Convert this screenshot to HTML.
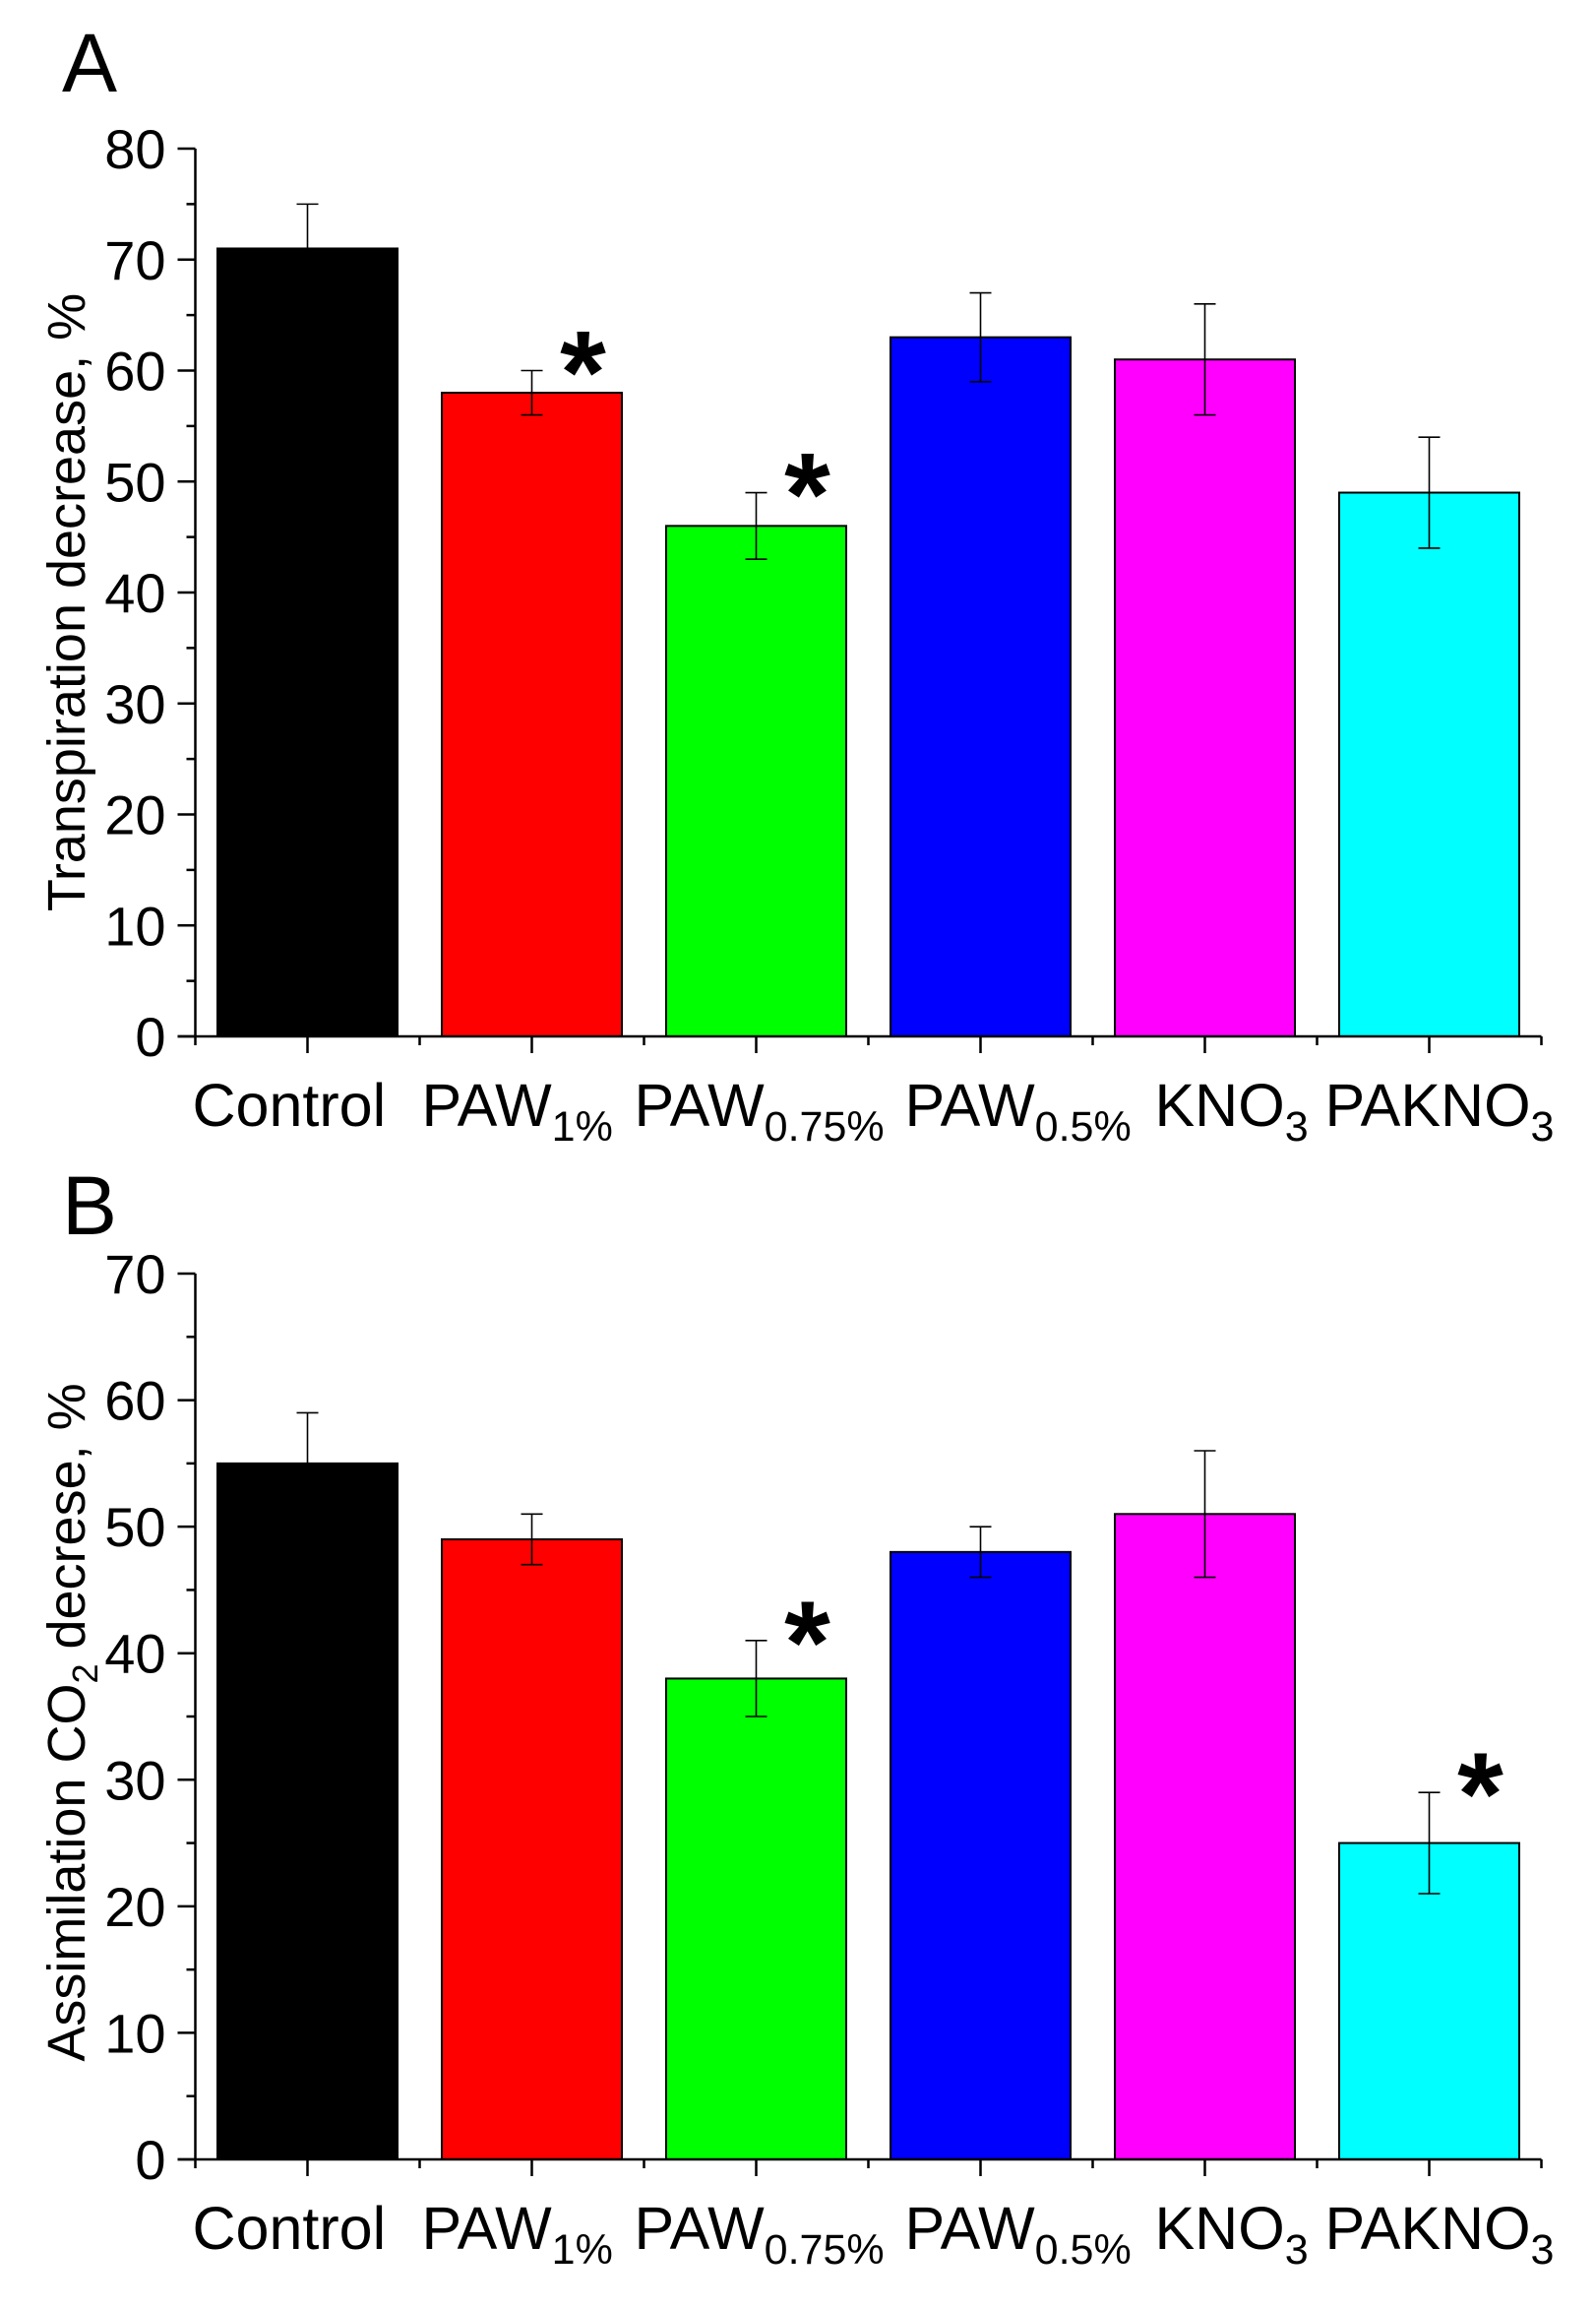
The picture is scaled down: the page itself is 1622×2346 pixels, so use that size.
<!DOCTYPE html>
<html><head><meta charset="utf-8">
<style>
html,body{margin:0;padding:0;background:#fff;}
svg{display:block;font-family:"Liberation Sans",Arial,sans-serif;}
</style></head>
<body>
<svg id="fig" width="1622" height="2346" viewBox="0 0 1622 2346" xmlns="http://www.w3.org/2000/svg">
<rect width="1622" height="2346" fill="#fff"/>
</svg>
<script>
const categories = ["Control","PAW","PAW","PAW","KNO","PAKNO"];
const catSubs = ["","1%","0.75%","0.5%","3","3"];
const colors = ["#000000","#ff0000","#00ff00","#0000ff","#ff00ff","#00ffff"];
const valuesA = [71,58,46,63,61,49];
const errorsA = [4,2,3,4,5,5];
const starsA = [false,true,true,false,false,false];
const ticksA = [0,10,20,30,40,50,60,70,80];
const valuesB = [55,49,38,48,51,25];
const errorsB = [4,2,3,2,5,4];
const starsB = [false,false,true,false,false,true];
const ticksB = [0,10,20,30,40,50,60,70];

const NS = "http://www.w3.org/2000/svg";
const svg = document.getElementById('fig');
const labelOffsets = [-117, -112, -124, -77, -51, -106];
function mk(tag, attrs, parent){
  const e = document.createElementNS(NS, tag);
  for (const k in attrs) e.setAttribute(k, attrs[k]);
  (parent||svg).appendChild(e);
  return e;
}

function drawPanel(cfg){
  const g = mk('g', {});
  
  
  const x0 = 198.5, band = 228, barW = 183;
  const yMax = cfg.ticks[cfg.ticks.length-1];
  const y = v => cfg.yZero - (v / yMax) * (cfg.yZero - cfg.yTop);
  const xc = i => x0 + band * (i + 0.5);

  const L = mk('text', {x:63, y:cfg.letterY, 'font-size':84, fill:'#000'}, g);
  L.textContent = cfg.letter;
  
  

  cfg.values.forEach((v, i) => {
    const r = mk('rect', {x:xc(i)-barW/2, y:y(v), width:barW, height:cfg.yZero-y(v), fill:colors[i], stroke:'#000', 'stroke-width':2}, g);
    
    
    const e = cfg.errors[i];
    const eg = mk('g', {stroke:'#000', 'stroke-width':1.6}, g);
    
    
    mk('line', {x1:xc(i), x2:xc(i), y1:y(v+e), y2:y(v-e)}, eg);
    mk('line', {x1:xc(i)-11, x2:xc(i)+11, y1:y(v+e), y2:y(v+e)}, eg);
    mk('line', {x1:xc(i)-11, x2:xc(i)+11, y1:y(v-e), y2:y(v-e)}, eg);
    if (cfg.stars[i]) {
      const s = mk('text', {x:xc(i)+52, y:y(v+e)+43, 'font-size':120, 'font-weight':'bold', 'text-anchor':'middle', fill:'#000'}, g);
      s.textContent = '*';
      
      
    }
  });

  const ax = mk('g', {stroke:'#000', 'stroke-width':2.5}, g);
  
  
  mk('line', {x1:x0, x2:x0, y1:cfg.yTop, y2:cfg.yZero}, ax);
  mk('line', {x1:x0-18, x2:x0+band*6, y1:cfg.yZero, y2:cfg.yZero}, ax);
  for (let i = 0; i < cfg.ticks.length; i++) {
    const t = cfg.ticks[i];
    mk('line', {x1:x0-18, x2:x0, y1:y(t), y2:y(t)}, ax);
    if (i < cfg.ticks.length-1) {
      const m = (t + cfg.ticks[i+1]) / 2;
      mk('line', {x1:x0-9, x2:x0, y1:y(m), y2:y(m)}, ax);
    }
    const tl = mk('text', {x:x0-30, y:y(t)+20, 'font-size':56, 'text-anchor':'end', fill:'#000', stroke:'none'}, g);
    tl.textContent = t;
    
    
  }
  for (let i = 0; i <= 6; i++) {
    mk('line', {x1:x0+band*i, x2:x0+band*i, y1:cfg.yZero, y2:cfg.yZero+9}, ax);
    if (i < 6) mk('line', {x1:xc(i), x2:xc(i), y1:cfg.yZero, y2:cfg.yZero+17}, ax);
  }
  categories.forEach((c, i) => {
    const t = mk('text', {x:xc(i)+labelOffsets[i], y:cfg.yZero+91, 'font-size':61, 'text-anchor':'start', fill:'#000'}, g);
    
    
    const a = mk('tspan', {}, t); a.textContent = c;
    if (catSubs[i]) {
      const b = mk('tspan', {'font-size':43, dy:15}, t); b.textContent = catSubs[i];
    }
  });
  const yt = mk('text', {transform:`translate(${cfg.titleX},${cfg.titleY}) rotate(-90)`, 'font-size':cfg.titleSize, 'text-anchor':'middle', fill:'#000'}, g);
  
  
  cfg.title.forEach(p => {
    const s = mk('tspan', p.sub ? {'font-size':36, dy:13} : (p.back ? {dy:-13} : {}), yt);
    s.textContent = p.t;
  });
}

drawPanel({name:'panel-a-transpiration', letter:'A', letterY:93, yTop:151, yZero:1053, ticks:ticksA,
  values:valuesA, errors:errorsA, stars:starsA, titleX:86, titleY:612, titleSize:54,
  title:[{t:'Transpiration decrease, %'}]});
drawPanel({name:'panel-b-assimilation', letter:'B', letterY:1254, yTop:1294, yZero:2194, ticks:ticksB,
  values:valuesB, errors:errorsB, stars:starsB, titleX:86, titleY:1750, titleSize:54,
  title:[{t:'Assimilation CO'},{t:'2',sub:true},{t:' decrese, %',back:true}]});
</script>
</body></html>
